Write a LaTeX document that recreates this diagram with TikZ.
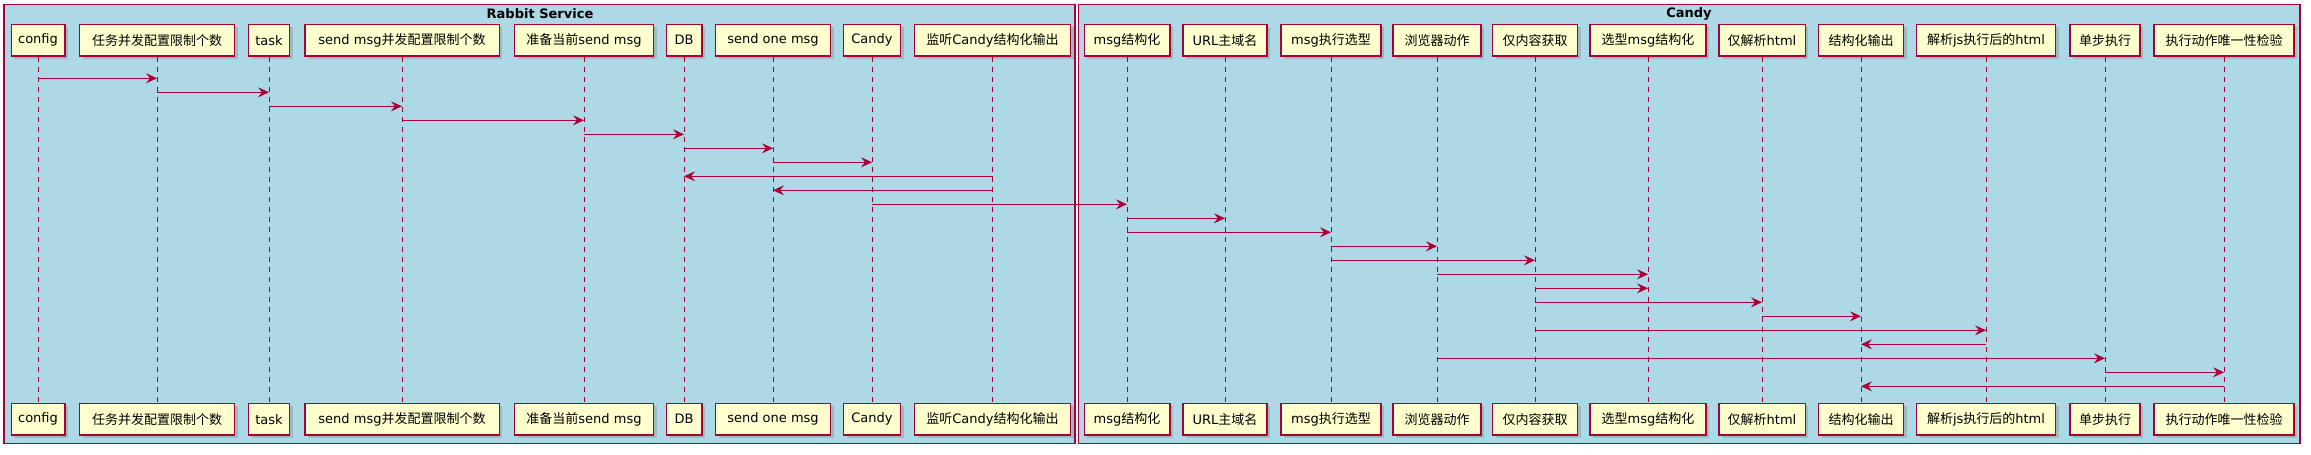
\documentclass[tikz,border=0pt]{standalone}
\usepackage{fontspec}
\setmainfont{DejaVu Sans}
\newfontfamily\cjkfont{Noto Sans CJK SC}
\newcommand{\zh}[1]{{\cjkfont #1}}
\usetikzlibrary{arrows.meta,shadows}
\definecolor{pbord}{HTML}{A80036}
\definecolor{pbox}{HTML}{FEFECE}
\definecolor{pframe}{HTML}{ADD8E6}
\tikzset{
  part/.style={draw=pbord, fill=pbox, line width=1.5pt, minimum height=31.5pt, inner sep=0pt,
    font=\fontsize{13}{15}\selectfont, text=black,
    drop shadow={shadow xshift=3pt, shadow yshift=-3pt, opacity=0.35, fill=gray}},
  life/.style={draw=pbord, line width=1pt, dash pattern=on 5pt off 5pt},
  msg/.style={draw=pbord, line width=1pt, -{Stealth[length=11pt,width=10pt,inset=4pt]}},
  grp/.style={draw=pbord, fill=pframe, line width=1.1pt},
  grptitle/.style={font=\fontsize{13}{15}\selectfont\bfseries, text=black, inner sep=0pt}
}
\begin{document}
\begin{tikzpicture}[x=1pt,y=-1pt]
\useasboundingbox (0,0) rectangle (2311,455);
% group frames
\draw[grp] (4,4.5) rectangle (1075,443.5);
\draw[grp] (1078.5,4.5) rectangle (2300,443.5);
\node[grptitle] (g1) at (540,14) {Rabbit Service};
\node[grptitle] (g2) at (1689,14) {Candy};
% participants
\foreach \n/\x/\w/\l in {
  p1/38/53.5/config,
  p2/157/155/\zh{任务并发配置限制个数},
  p3/269/41/task,
  p4/402/194.5/send msg\zh{并发配置限制个数},
  p5/584/139/\zh{准备当前}send msg,
  p6/684/35.5/DB,
  p7/773/115/send one msg,
  p8/872/57/Candy,
  p9/992.5/156/\zh{监听}Candy\zh{结构化输出},
  p10/1127/85.5/msg\zh{结构化},
  p11/1225/84/URL\zh{主域名},
  p12/1331/100/msg\zh{执行选型},
  p13/1437/88/\zh{浏览器动作},
  p14/1535/85/\zh{仅内容获取},
  p15/1648/116/\zh{选型}msg\zh{结构化},
  p16/1762/86.5/\zh{仅解析}html,
  p17/1861/85/\zh{结构化输出},
  p18/1986/139/\zh{解析}js\zh{执行后的}html,
  p19/2105/70/\zh{单步执行},
  p20/2224/140/\zh{执行动作唯一性检验}}
{
  \node[part, minimum width=\w pt] (\n t) at (\x,40.2) {\l};
  \node[part, minimum width=\w pt] (\n b) at (\x,419.2) {\l};
  \draw[life] (\n t.south) -- (\n b.north);
}
% messages
\foreach \a/\b/\k in {
  p1/p2/1, p2/p3/2, p3/p4/3, p4/p5/4, p5/p6/5, p6/p7/6, p7/p8/7,
  p9/p6/8, p9/p7/9, p8/p10/10, p10/p11/11, p10/p12/12, p12/p13/13,
  p12/p14/14, p13/p15/15, p14/p15/16, p14/p16/17, p16/p17/18,
  p14/p18/19, p18/p17/20, p13/p19/21, p19/p20/22, p20/p17/23}
{
  \pgfmathsetmacro{\yy}{78.3+14*(\k-1)}
  \coordinate (m\k) at (0,\yy);
  \draw[msg] (\a t |- m\k) -- (\b t |- m\k);
}
\end{tikzpicture}
\end{document}
